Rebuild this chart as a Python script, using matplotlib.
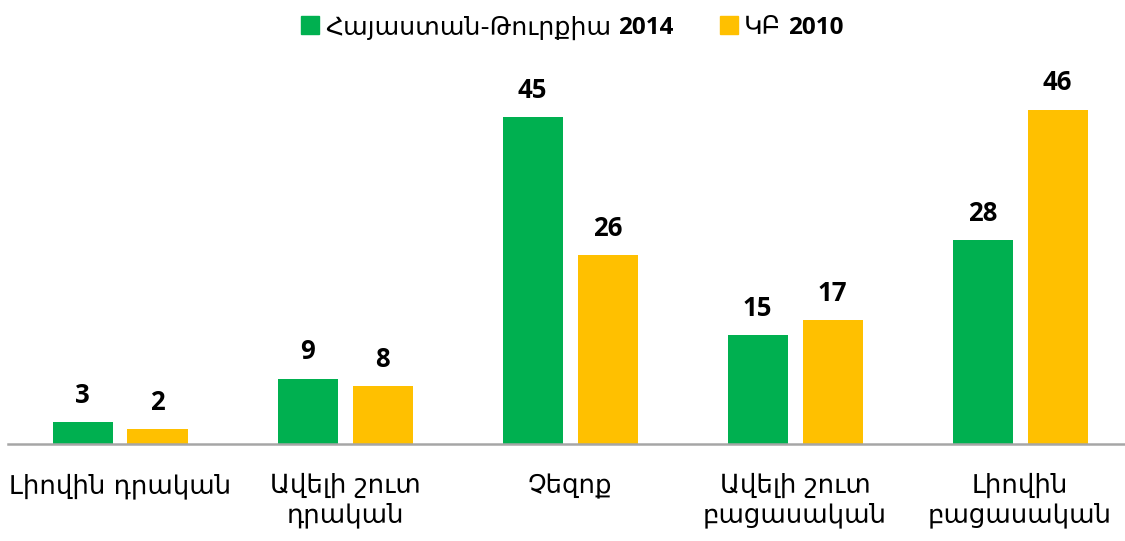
import matplotlib
matplotlib.use("Agg")
import matplotlib.pyplot as plt
import numpy as np
from matplotlib.patches import Rectangle

categories = ["Լիովին դրական", "Ավելի շուտ\nդրական", "Չեզոք", "Ավելի շուտ\nբացասական", "Լիովին\nբացասական"]
series_names = ["Հայաստան-Թուրքիա", "ԿԲ"]
series_years = ["2014", "2010"]
armenia_turkey_2014 = [3, 9, 45, 15, 28]
kb_2010 = [2, 8, 26, 17, 46]
colors = ["#00B050", "#FFC000"]

NUM_FONT = ['Open Sans', 'DejaVu Sans']
ARM_FONT = ['DejaVu Sans']
plt.rcParams['font.family'] = NUM_FONT

W, H = 1125, 541
fig = plt.figure(figsize=(W / 100, H / 100), dpi=100)
left_px, right_px = 7.5, 1132.5
bottom_px, top_px = 444, 60
ax = fig.add_axes([left_px / W, 1 - bottom_px / H, (right_px - left_px) / W, (bottom_px - top_px) / H])

x = np.arange(len(categories))
bw = 60 / 225
off = 37.5 / 225
b1 = ax.bar(x - off, armenia_turkey_2014, bw, color=colors[0])
b2 = ax.bar(x + off, kb_2010, bw, color=colors[1])

for bars, vals in ((b1, armenia_turkey_2014), (b2, kb_2010)):
    for r, v in zip(bars, vals):
        ax.annotate(str(v), (r.get_x() + r.get_width() / 2, v), xytext=(0, 9.5),
                    textcoords="offset points", ha="center", va="bottom",
                    fontsize=18.5, fontweight="bold", color="#000000", annotation_clip=False)

ax.set_xlim(-0.5, len(categories) - 0.5)
ax.set_ylim(0, (bottom_px - top_px) / 7.27)
ax.set_yticks([])
ax.set_xticks(x)
ax.set_xticklabels(categories, fontsize=18.7, color="#000000", linespacing=1.15, family=ARM_FONT)
ax.tick_params(axis='x', length=0, pad=21)
for s in ["top", "right", "left"]:
    ax.spines[s].set_visible(False)
ax.spines["bottom"].set_color("#A6A6A6")
ax.spines["bottom"].set_linewidth(1.8)

# manual legend: colored square, Armenian name (regular), year (bold)
fig.canvas.draw()
renderer = fig.canvas.get_renderer()
leg_y = 1 - 25 / H
sq = 18
starts = [301, 720]
for i, (name, yr) in enumerate(zip(series_names, series_years)):
    x0 = starts[i]
    fig.patches.append(Rectangle((x0 / W, leg_y - sq / 2 / H), sq / W, sq / H,
                                 transform=fig.transFigure, color=colors[i]))
    t1 = fig.text((x0 + sq + 6) / W, leg_y, name, fontsize=18.2, family=ARM_FONT,
                  va="center_baseline", ha="left", color="#000000")
    bb = t1.get_window_extent(renderer)
    fig.text((bb.x1 + 7) / W, leg_y, yr, fontsize=17.5, fontweight="bold",
             va="center_baseline", ha="left", color="#000000")

fig.savefig("out.png", dpi=100)
